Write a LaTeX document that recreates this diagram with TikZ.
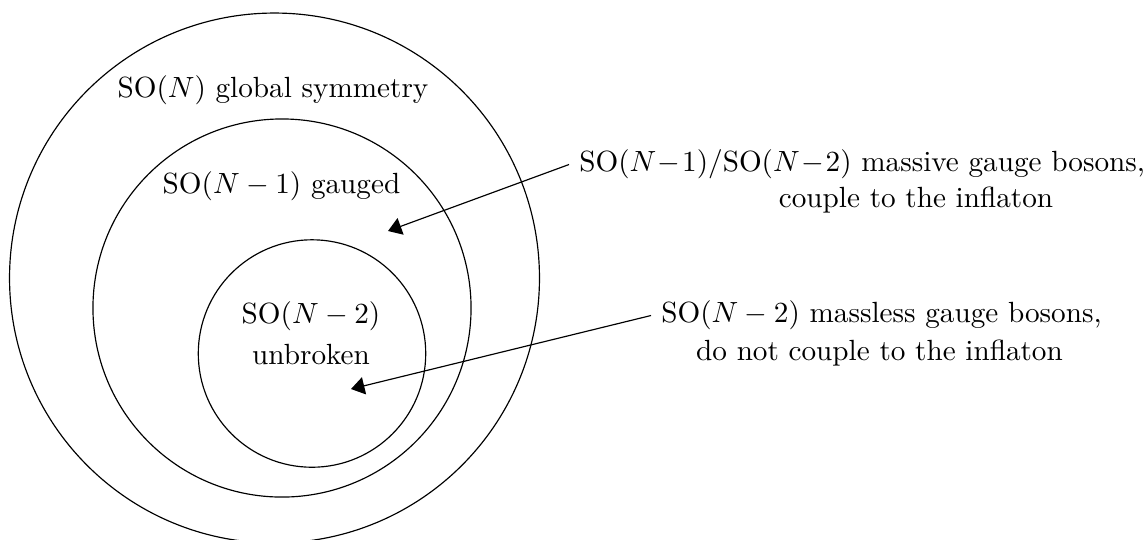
\documentclass[tikz,border=0pt]{standalone}
\usetikzlibrary{arrows.meta}
\begin{document}
\begin{tikzpicture}[x=0.3425pt,y=-0.3425pt,
  ring/.style={circle,draw,inner sep=0pt,line width=0.4pt},
  lbl/.style={inner sep=0pt,align=center},
  pointer/.style={line width=0.4pt,-{Triangle[length=4.6pt,width=6pt]}}]
\useasboundingbox (0,0) rectangle (1143,539);
\node[ring,minimum size=181.5pt] (big) at (274.5,278) {};
\node[ring,minimum size=129.5pt] (mid) at (282,308) {};
\node[ring,minimum size=77.9pt] (small) at (312,353.5) {};
\node[lbl] (tbig) at (273,89.7) {SO$(N)$ global symmetry};
\node[lbl] (tmid) at (281.5,186.5) {SO$(N-1)$ gauged};
\node[lbl] (tsmall) at (311,333.5) {SO$(N-2)$\\[2pt] unbroken};
\node[lbl,anchor=west,inner sep=3.33pt] (l1) at (569,164.5) {SO$(N\!-\!1)/$SO$(N\!-\!2)$ massive gauge bosons,};
\node[lbl] (l1b) at (916,200) {couple to the inflaton};
\node[lbl,anchor=west,inner sep=3.33pt] (l2) at (651,315.5) {SO$(N-2)$ massless gauge bosons,};
\node[lbl] (l2b) at (879.5,353.4) {do not couple to the inflaton};
\coordinate (e1) at (388,231);
\coordinate (e2) at (351,389);
\draw[pointer] (l1.west) -- (e1);
\draw[pointer] (l2.west) -- (e2);
\end{tikzpicture}
\end{document}
